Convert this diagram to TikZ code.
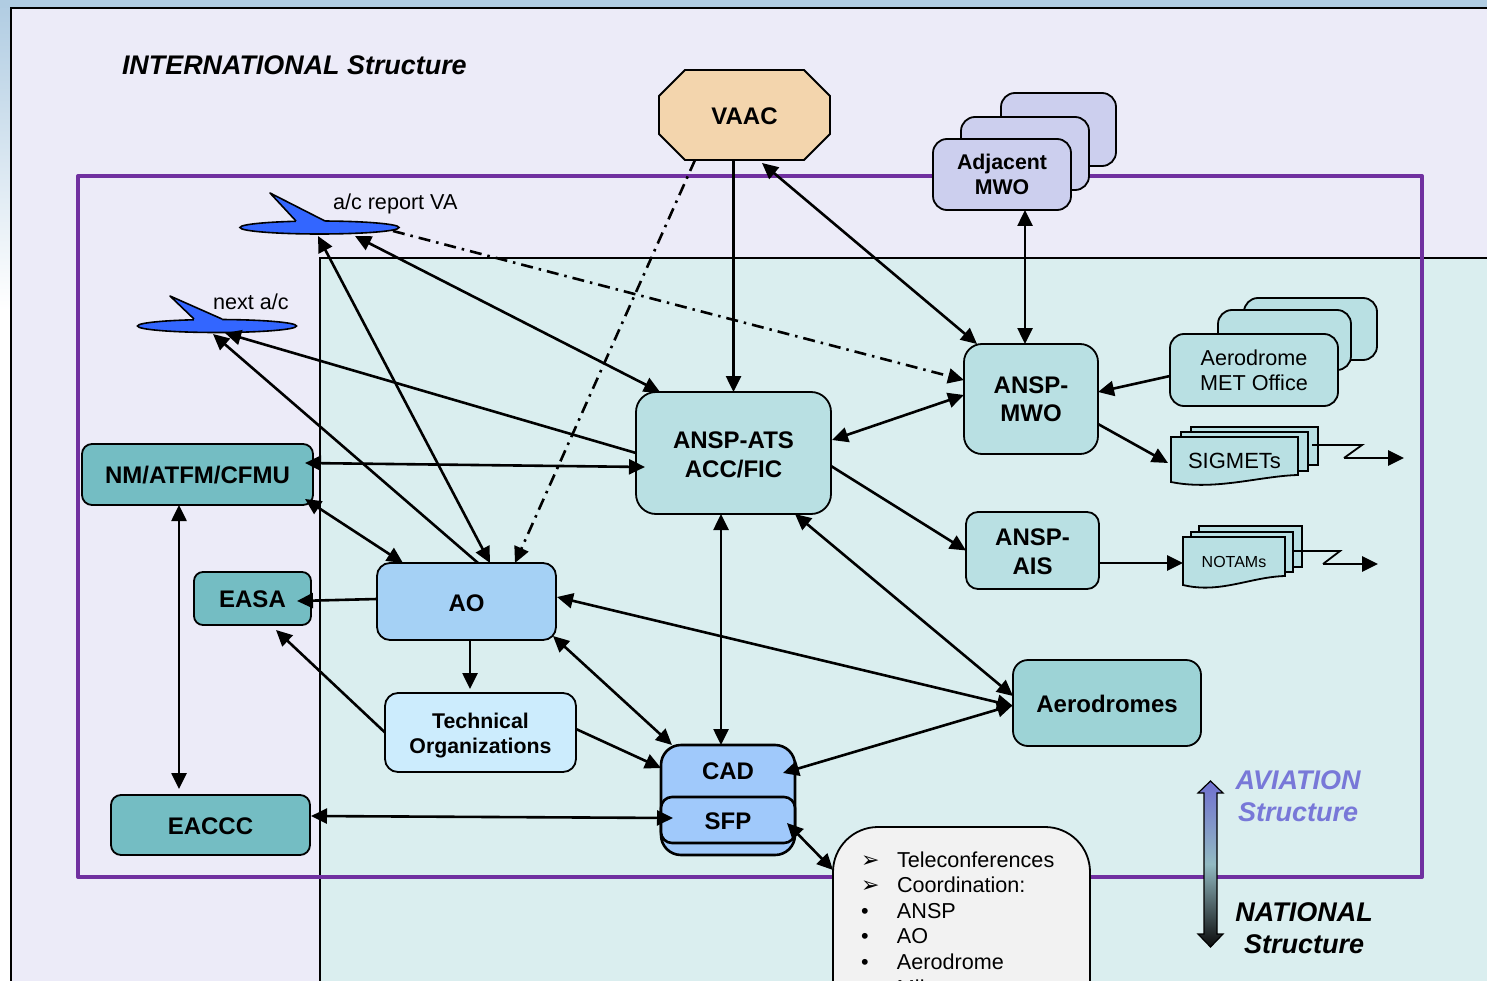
\documentclass[tikz,border=0pt]{standalone}
\usepackage{fontspec}
\setmainfont{Liberation Sans}
\newfontfamily\dejavu{DejaVu Sans}
\usetikzlibrary{arrows.meta,shapes.geometric}
\definecolor{cInner}{HTML}{ECEBF8}
\definecolor{cPanel}{HTML}{DAEEEF}
\definecolor{cPurple}{HTML}{7030A0}
\definecolor{cSky}{HTML}{B0CCE2}
\definecolor{cAts}{HTML}{B9E0E3}
\definecolor{cDark}{HTML}{74BDC3}
\definecolor{cAero}{HTML}{9DD3D6}
\definecolor{cAdj}{HTML}{CCCFEE}
\definecolor{cVaac}{HTML}{F3D5AD}
\definecolor{cAo}{HTML}{A5D1F5}
\definecolor{cTech}{HTML}{CCECFD}
\definecolor{cCad}{HTML}{A0C9FB}
\definecolor{cPlane}{HTML}{3366FF}
\definecolor{cAvi}{HTML}{7878D8}
\definecolor{cBox}{HTML}{F2F2F2}
\definecolor{cGradTop}{HTML}{7070D0}
\definecolor{cGradMid}{HTML}{92BAC2}
\definecolor{cGradBot}{HTML}{0A0A0A}
\newcommand{\lift}[1]{\rule{0pt}{#1pt}}
\tikzset{
  box/.style={draw=black,line width=1.8pt,rounded corners=#1,inner sep=0pt,outer sep=0pt,align=center},
  box/.default=14pt,
  big/.style={font=\fontsize{24}{28.5}\selectfont\bfseries},
  mid/.style={font=\fontsize{21.3}{25}\selectfont\bfseries},
  reg/.style={font=\fontsize{21.6}{25}\selectfont},
  nudge/.style={execute at begin node={\rule{0pt}{#1pt}}},
  plane/.style={draw=black,line width=1.6pt,fill=cPlane,ellipse,inner sep=0pt,outer sep=0pt,minimum width=159pt,minimum height=13pt},
  lbl/.style={inner sep=0pt,outer sep=0pt,align=center},
  conn/.style={line width=2.6pt,draw=black},
  one/.style={conn,-{Triangle[length=16pt,width=15pt]}},
  two/.style={conn,{Triangle[length=16pt,width=15pt]}-{Triangle[length=16pt,width=15pt]}},
  dashdot/.style={conn,dash pattern=on 12pt off 6pt on 2.5pt off 6pt,-{Triangle[length=16pt,width=15pt]}},
  thin conn/.style={line width=1.8pt,draw=black},
  doc/.style={draw=black,line width=1.8pt,fill=cAts,line join=miter},
}
\begin{document}
\begin{tikzpicture}[x=1pt,y=-1pt]
\useasboundingbox (0,0) rectangle (1487,981);
\clip (0,0) rectangle (1487,981);
% page background
\fill[white] (0,0) rectangle (1487,981);
\shade[top color=cSky,bottom color=white] (0,0) rectangle (12,310);
\fill[cSky] (0,0) rectangle (1487,8);
% outer frame and panels
\draw[black,line width=2pt,fill=cInner] (11,8) rectangle (1500,1000);
\draw[black,line width=1.6pt,fill=cPanel] (320,258) rectangle (1500,1000);
\draw[cPurple,line width=4pt,line join=round] (78,176) rectangle (1422,877);
% title texts
\node[lbl,anchor=west,font=\fontsize{26.9}{30}\selectfont\bfseries\itshape] (title) at (122,65) {INTERNATIONAL Structure};
\node[lbl,text=cAvi,font=\fontsize{27}{32}\selectfont\bfseries\itshape] (avi) at (1298,796) {AVIATION\\Structure};
\node[lbl,font=\fontsize{27}{32}\selectfont\bfseries\itshape] (nat) at (1304,928) {NATIONAL\\Structure};
% gradient arrow
\draw[line width=1.2pt,black,top color=cGradTop,bottom color=cGradBot,middle color=cGradMid]
  (1210.5,781) -- (1223,793) -- (1217,793) -- (1217,934) -- (1223,934) -- (1210.5,947)
  -- (1198,934) -- (1204,934) -- (1204,793) -- (1198,793) -- cycle;
% VAAC
\draw[black,line width=1.8pt,fill=cVaac,line join=miter]
  (685,70) -- (804,70) -- (830,96) -- (830,134) -- (804,160) -- (685,160) -- (659,134) -- (659,96) -- cycle;
\node[lbl,big,nudge=19,minimum width=171pt,minimum height=90pt] (vaac) at (744.5,115) {VAAC};
% Adjacent MWO stack
\node[box,fill=cAdj,minimum width=115pt,minimum height=73pt] (adj3) at (1058.5,129.5) {};
\node[box,fill=cAdj,minimum width=128pt,minimum height=73pt] (adj2) at (1025,153.5) {};
\node[box,fill=cAdj,mid,minimum width=138pt,minimum height=71pt] (adj) at (1002,174.5) {Adjacent\\MWO};
% Met office stack
\node[box,fill=cAts,minimum width=133pt,minimum height=62pt] (met3) at (1310.5,329) {};
\node[box,fill=cAts,minimum width=133pt,minimum height=60pt] (met2) at (1284.5,340) {};
\node[box,fill=cAts,reg,minimum width=168pt,minimum height=72pt] (met) at (1254,370) {Aerodrome\\MET Office};
% ANSP boxes
\node[box=18pt,fill=cAts,big,minimum width=134pt,minimum height=110pt] (mwo) at (1031,399) {ANSP-\\MWO};
\node[box=20pt,fill=cAts,big,minimum width=195pt,minimum height=122pt] (ats) at (733.5,453) {\lift{20}ANSP-ATS\\ACC/FIC};
\node[box=12pt,fill=cAts,big,minimum width=133pt,minimum height=77pt] (ais) at (1032.5,550.5) {\lift{19}ANSP-\\AIS};
% SIGMETs
\draw[doc] (1191,427) -- (1318,427) -- (1318,465) -- (1191,465) -- cycle;
\draw[doc] (1181,432) -- (1308,432) -- (1308,471) -- (1181,471) -- cycle;
\draw[doc] (1171,437) -- (1298,437) -- (1298,475) .. controls (1260,476) and (1215,491) .. (1171,482) -- cycle;
\node[lbl,font=\fontsize{22}{25}\selectfont,minimum width=127pt,minimum height=46pt] (sig) at (1234.5,461) {SIGMETs};
% NOTAMs
\draw[doc] (1199,526) -- (1302,526) -- (1302,567) -- (1199,567) -- cycle;
\draw[doc] (1191,532) -- (1293,532) -- (1293,572) -- (1191,572) -- cycle;
\draw[doc] (1183,537) -- (1285,537) -- (1285,576) .. controls (1250,577) and (1220,594) .. (1183,585) -- cycle;
\node[lbl,font=\fontsize{16}{19}\selectfont,minimum width=102pt,minimum height=46pt] (notam) at (1234,562) {NOTAMs};
% left boxes
\node[box=10pt,fill=cDark,big,nudge=19,minimum width=231pt,minimum height=61pt] (nm) at (197.5,474.5) {NM/ATFM/CFMU};
\node[box=9pt,fill=cDark,big,nudge=19,minimum width=117pt,minimum height=53pt] (easa) at (252.5,598.5) {EASA};
\node[box=10pt,fill=cDark,big,nudge=19,minimum width=199pt,minimum height=60pt] (eaccc) at (210.5,825) {EACCC};
\node[box=13pt,fill=cAo,big,nudge=21,minimum width=179pt,minimum height=77pt] (ao) at (466.5,601.5) {AO};
\node[box=13pt,fill=cTech,mid,minimum width=191pt,minimum height=79pt] (tech) at (480.5,732.5) {\lift{22}Technical\\Organizations};
% CAD / SFP
\node[box=20pt,line width=2.6pt,fill=cCad,big,minimum width=134pt,minimum height=110pt] (cad) at (728,800) {\raisebox{21pt}[0pt][0pt]{CAD}};
\node[box=11pt,line width=2.6pt,fill=cCad,big,nudge=19,minimum width=134pt,minimum height=46pt] (sfp) at (728,820) {SFP};
% Aerodromes
\node[box=15pt,fill=cAero,big,nudge=19,minimum width=188pt,minimum height=86pt] (aero) at (1107,703) {Aerodromes};
% Conference box
\node[box=45pt,fill=cBox,anchor=north west,inner sep=0pt] (tele) at (833,827)
 {\parbox[c][300pt][t]{257pt}{\fontsize{21.6}{25.6}\selectfont\raggedright
  \vspace*{24.5pt}
  \hspace*{28pt}\makebox[36pt][l]{\dejavu\fontsize{22}{22}\selectfont ➢}Teleconferences\\
  \hspace*{28pt}\makebox[36pt][l]{\dejavu\fontsize{22}{22}\selectfont ➢}Coordination:\\
  \hspace*{28pt}\makebox[36pt][l]{•}ANSP\\
  \hspace*{28pt}\makebox[36pt][l]{•}AO\\
  \hspace*{28pt}\makebox[36pt][l]{•}Aerodrome\\
  \hspace*{28pt}\makebox[36pt][l]{•}Mil}};
% Planes
\node[plane] (p1) at (319.5,227.5) {};
\fill[cPlane] (296,221) -- (270,193) -- (325,221) -- (325,228) -- (296,228) -- cycle;
\draw[black,line width=1.6pt,line join=round] (296,221) -- (270,193) -- (325,221);
\node[plane] (p2) at (217,326) {};
\fill[cPlane] (194,319) -- (170,296) -- (222,319) -- (222,326) -- (194,326) -- cycle;
\draw[black,line width=1.6pt,line join=round] (194,319) -- (170,296) -- (222,319);
\node[lbl,reg,anchor=west] (p1t) at (333,204) {a/c report VA};
\node[lbl,reg,anchor=west] (p2t) at (213,302) {next a/c};
% lightning arrows
\coordinate (sigA) at (1404,458);
\coordinate (notA) at (1378,564);
\draw[thin conn,line join=miter] (1312,445) -- (1362,445) -- (1344,458);
\draw[one] (1344,458) -- (sigA);
\draw[thin conn,line join=miter] (1293,551) -- (1340,551) -- (1323,564);
\draw[one] (1323,564) -- (notA);
% connectors
\draw[one] ([xshift=-11pt]vaac.south) -- (ats.north);
\draw[two] ([xshift=17.5pt,yshift=-3pt]vaac.south) -- ([xshift=13pt]mwo.north west);
\draw[dashdot] ([xshift=-49.5pt]vaac.south) -- ([xshift=48.5pt]ao.north);
\draw[dashdot] ([xshift=-6pt,yshift=-3.5pt]p1.east) -- ([yshift=19pt]mwo.west);
\draw[two] ([xshift=23pt]adj.south) -- ([xshift=-6pt]mwo.north);
\draw[one] ([yshift=-6pt]met.west) -- ([yshift=7pt]mwo.east);
\draw[one] ([yshift=-25pt]mwo.east) -- ([xshift=-3pt,yshift=-2pt]sig.west);
\draw[two] ([yshift=13pt,xshift=1pt]ats.east) -- ([yshift=4pt]mwo.west);
\draw[one] ([yshift=-13pt]ats.east) -- (ais.west);
\draw[one] ([yshift=-12.5pt]ais.east) -- ([yshift=-1pt]notam.west);
\draw[two] ([xshift=35.5pt,yshift=-2pt]p1.south) -- ([xshift=24pt]ats.north west);
\draw[two] ([xshift=23.5pt]ao.north) -- ([xshift=-1.5pt,yshift=-2pt]p1.south);
\draw[one] ([xshift=11.5pt]ao.north) -- ([xshift=-4pt,yshift=-1.5pt]p2.south);
\draw[one] (ats.west) -- ([xshift=8pt,yshift=-0.5pt]p2.south);
\draw[two] ([xshift=-8pt,yshift=11.5pt]nm.east) -- ([xshift=9pt,yshift=-14pt]ats.west);
\draw[two] ([xshift=-8pt,yshift=6pt]nm.south east) -- ([xshift=26pt]ao.north west);
\draw[two] ([xshift=-18.5pt]nm.south) -- ([xshift=-31.5pt,yshift=6pt]eaccc.north);
\draw[one] ([yshift=2.5pt]ao.west) -- ([xshift=-14pt,yshift=-2.5pt]easa.east);
\draw[one] ([xshift=3.5pt]ao.south) -- ([xshift=-10.5pt,yshift=4pt]tech.north);
\draw[one] (tech.west) -- ([xshift=23.5pt,yshift=-5pt]easa.south);
\draw[one] ([yshift=3.5pt]tech.east) -- ([yshift=32pt]cad.west);
\draw[two] ([xshift=-3pt,yshift=4pt]ao.south east) -- ([xshift=11pt]cad.north west);
\draw[two] ([xshift=-12.5pt]ats.south) -- ([xshift=-7pt]cad.north);
\draw[two] ([xshift=-36pt]ats.south east) -- ([yshift=7pt]aero.west);
\draw[two] ([xshift=1pt,yshift=4.5pt]ao.east) -- ([yshift=-3pt]aero.west);
\draw[two] ([xshift=-12pt,yshift=-28pt]cad.north east) -- ([yshift=-2pt]aero.west);
\draw[two] ([xshift=1pt,yshift=9pt]eaccc.east) -- ([xshift=12pt,yshift=2pt]sfp.west);
\draw[two] ([xshift=-8pt,yshift=-3pt]sfp.east) -- ([yshift=-43pt]tele.north west);
\end{tikzpicture}
\end{document}
